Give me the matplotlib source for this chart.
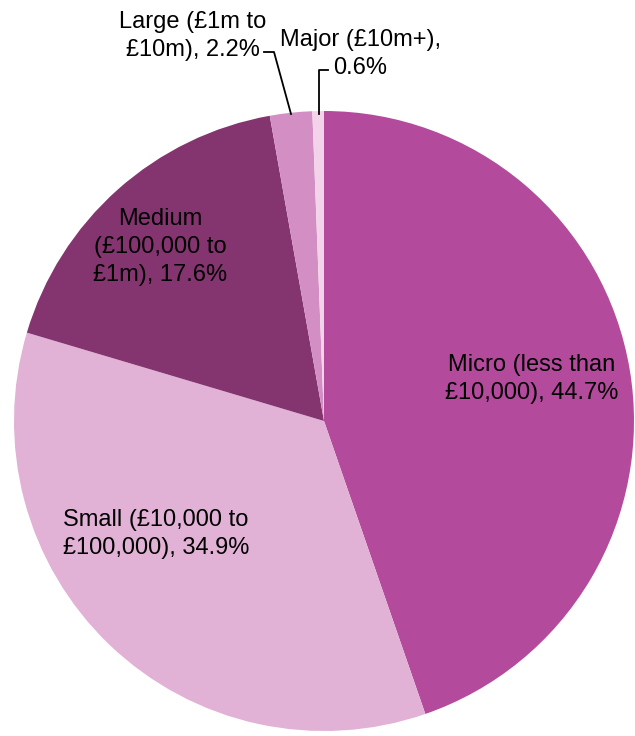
import matplotlib.pyplot as plt

# business size bands, share of total
labels = ['Micro (less than\n£10,000), 44.7%',
          'Small (£10,000 to\n£100,000), 34.9%',
          'Medium\n(£100,000 to\n£1m), 17.6%',
          'Large (£1m to\n£10m), 2.2%',
          'Major (£10m+),\n0.6%']
shares = [44.7, 34.9, 17.6, 2.2, 0.6]
colours = ['#B44A9C', '#E1B2D6', '#843570', '#D38FC4', '#F2D3EA']

plt.rcParams['font.family'] = ['Liberation Sans', 'DejaVu Sans']

fig = plt.figure(figsize=(6.35, 7.36), dpi=100)
ax = fig.add_axes([0, 0, 1, 1])

cx, cy, r = 324, 736 - 421, 310
ax.pie(shares, colors=colours, startangle=90, counterclock=False,
       center=(cx, cy), radius=r, frame=True,
       wedgeprops=dict(linewidth=0))
ax.set_xlim(0, 635)
ax.set_ylim(0, 736)
ax.set_aspect('equal')
ax.axis('off')

fs = 17
ls = 1.35
ax.text(532, 736 - 379, labels[0], fontsize=fs, ha='center', va='center', linespacing=ls)
ax.text(63, 736 - 534, labels[1], fontsize=fs, ha='left', va='center', linespacing=ls)
ax.text(160, 736 - 247, labels[2], fontsize=fs, ha='center', va='center', linespacing=ls)
ax.text(193, 736 - 36, labels[3], fontsize=fs, ha='center', va='center', linespacing=ls)
ax.text(360, 736 - 54, labels[4], fontsize=fs, ha='center', va='center', linespacing=ls)

# leader lines for the two thin slices
ax.plot([264, 274, 291], [736 - 52, 736 - 52, 736 - 114], color='black', lw=1.3)
ax.plot([328, 319, 319], [736 - 70, 736 - 70, 736 - 114], color='black', lw=1.3)

fig.savefig('out.png', dpi=100)
